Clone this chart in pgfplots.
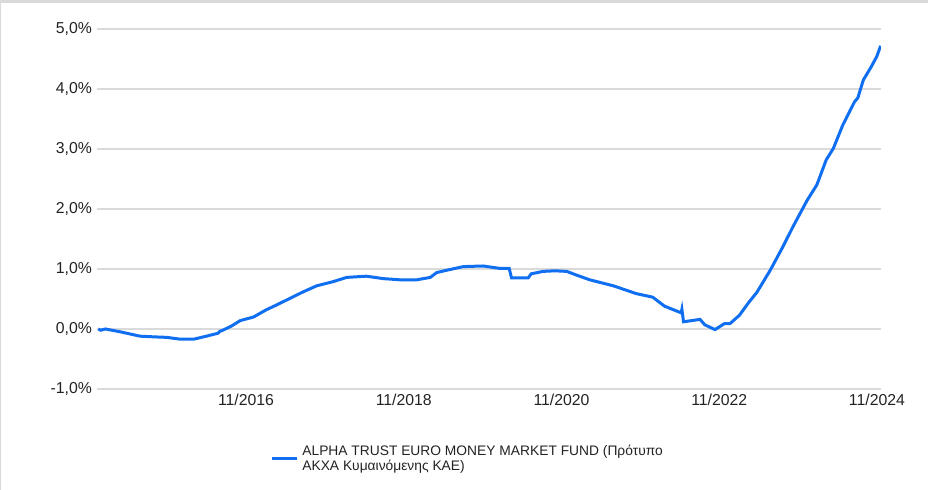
\documentclass[border=0pt]{standalone}
\usepackage{pgfplots}
\pgfplotsset{compat=1.18}
\usepackage{pgfplotstable}
\usepackage{fontspec}
\setmainfont{Liberation Sans}
\definecolor{fundblue}{RGB}{16,110,240}
\definecolor{gridgray}{RGB}{218,218,218}
\definecolor{labelgray}{RGB}{34,34,34}

% year (decimal), cumulative return in %
\pgfplotstableread{
x y
2014.96 0.00
2014.99 -0.02
2015.05 0.00
2015.25 -0.05
2015.49 -0.12
2015.65 -0.13
2015.83 -0.14
2016.00 -0.17
2016.17 -0.17
2016.33 -0.12
2016.48 -0.07
2016.50 -0.04
2016.54 -0.02
2016.65 0.05
2016.76 0.14
2016.93 0.20
2017.09 0.32
2017.22 0.40
2017.39 0.51
2017.56 0.62
2017.73 0.72
2017.94 0.79
2018.11 0.86
2018.36 0.88
2018.57 0.84
2018.78 0.82
2019.00 0.82
2019.17 0.86
2019.25 0.94
2019.38 0.98
2019.59 1.04
2019.84 1.05
2020.05 1.01
2020.17 1.01
2020.20 0.85
2020.41 0.85
2020.45 0.92
2020.60 0.96
2020.75 0.97
2020.90 0.96
2021.02 0.90
2021.19 0.82
2021.49 0.72
2021.78 0.59
2021.99 0.53
2022.14 0.38
2022.35 0.27
2022.36 0.33
2022.38 0.12
2022.59 0.16
2022.65 0.07
2022.78 -0.01
2022.90 0.09
2022.97 0.09
2023.09 0.23
2023.20 0.43
2023.31 0.61
2023.48 0.98
2023.64 1.37
2023.77 1.71
2023.95 2.15
2024.07 2.40
2024.19 2.82
2024.28 3.01
2024.40 3.40
2024.55 3.79
2024.59 3.85
2024.66 4.15
2024.76 4.37
2024.83 4.54
2024.88 4.72
}\fundtable

\begin{document}
\begin{tikzpicture}
\useasboundingbox (-48.5pt,-50.5pt) rectangle (415.5pt,194.5pt);
\draw[gridgray, line width=1.5pt] (-48.5pt,193.5pt) -- (415.5pt,193.5pt);
\draw[gridgray, line width=0.6pt] (-48.2pt,-50.5pt) -- (-48.2pt,194.5pt);
\begin{axis}[
    at={(0,0)}, anchor=south west,
    scale only axis,
    width=392pt, height=180pt,
    xmin=2014.944, xmax=2024.884,
    ymin=-1, ymax=5,
    axis line style={draw=none},
    tick style={draw=none},
    ymajorgrids,
    grid style={gridgray, line width=1pt},
    ytick={-1,0,1,2,3,4,5},
    yticklabels={{-1,0\%},{0,0\%},{1,0\%},{2,0\%},{3,0\%},{4,0\%},{5,0\%}},
    xtick={2016.833,2018.833,2020.833,2022.833,2024.833},
    xticklabels={11/2016,11/2018,11/2020,11/2022,11/2024},
    ticklabel style={font=\fontsize{7.9}{9}\selectfont, text=labelgray},
    yticklabel style={xshift=1pt},
    xticklabel style={yshift=1pt},
    legend style={draw=none, fill=none, at={(axis description cs:0.213,-0.1944)},
        anchor=west, font=\fontsize{6.9}{7.5}\selectfont, text=labelgray,
        cells={align=left}},
    legend image code/.code={\draw[#1] (0pt,0pt) -- (12.5pt,0pt);},
]
\addplot[fundblue, line width=1.5pt] table[x=x, y=y] {\fundtable};
\addlegendentry{ALPHA TRUST EURO MONEY MARKET FUND (Πρότυπο\\ΑΚΧΑ Κυμαινόμενης ΚΑΕ)}
\end{axis}
\end{tikzpicture}
\end{document}
